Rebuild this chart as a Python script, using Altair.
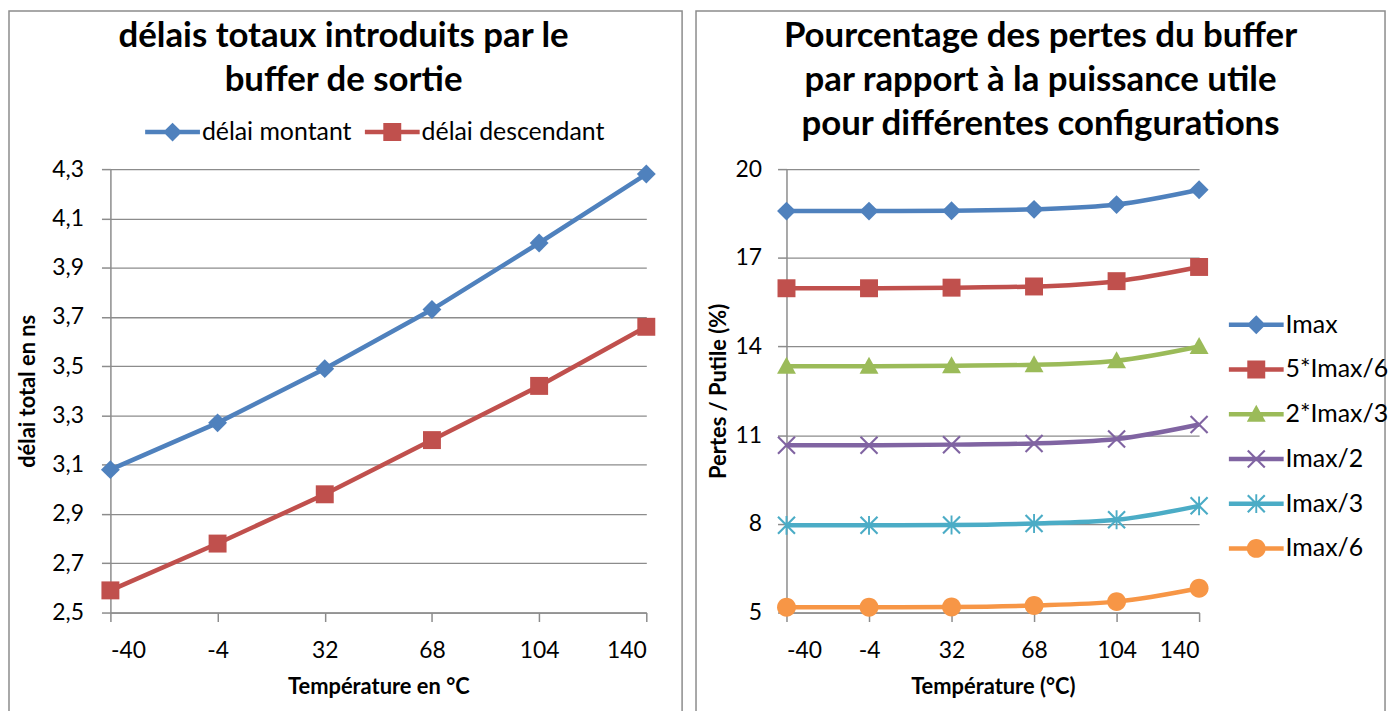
import altair as alt
import pandas as pd

# ---------------- data ----------------
temps = [-40, -4, 32, 68, 104, 140]

delai_montant = [3.08, 3.27, 3.49, 3.73, 4.00, 4.28]
delai_descendant = [2.59, 2.78, 2.98, 3.20, 3.42, 3.66]
left_series = ["délai montant", "délai descendant"]
left_colors = ["#4F81BD", "#C0504D"]
left_yticks = [2.5, 2.7, 2.9, 3.1, 3.3, 3.5, 3.7, 3.9, 4.1, 4.3]

pertes_imax = [18.58, 18.58, 18.59, 18.64, 18.80, 19.30]
pertes_5imax6 = [15.97, 15.97, 15.99, 16.03, 16.21, 16.69]
pertes_2imax3 = [13.33, 13.33, 13.35, 13.38, 13.52, 14.00]
pertes_imax2 = [10.66, 10.66, 10.68, 10.72, 10.87, 11.36]
pertes_imax3 = [7.95, 7.95, 7.96, 8.01, 8.14, 8.61]
pertes_imax6 = [5.18, 5.18, 5.19, 5.24, 5.37, 5.82]
right_series = ["Imax", "5*Imax/6", "2*Imax/3", "Imax/2", "Imax/3", "Imax/6"]
right_colors = ["#4F81BD", "#C0504D", "#9BBB59", "#8064A2", "#4BACC6", "#F79646"]
right_yticks = [5, 8, 11, 14, 17, 20]

left_title = ["délais totaux introduits par le", "buffer de sortie"]
right_title = ["Pourcentage des pertes du buffer",
               "par rapport à la puissance utile",
               "pour différentes configurations"]

# ---------------- marker shapes (unit square paths) ----------------
DIAMOND = "M0,-1L1,0L0,1L-1,0Z"
SQUARE = "M-0.95,-0.95L0.95,-0.95L0.95,0.95L-0.95,0.95Z"
TRIANGLE = "M0,-1L1,0.8L-1,0.8Z"
XMARK = ("M-0.82,-0.98L0.98,0.82L0.82,0.98L-0.98,-0.82Z"
         "M0.82,-0.98L0.98,-0.82L-0.82,0.98L-0.98,0.82Z")
STAR = XMARK + "M-0.1,-1L0.1,-1L0.1,1L-0.1,1Z"
CIRCLE = "M-1,0A1,1 0 1,1 1,0A1,1 0 1,1 -1,0Z"
SEG = "M-2.9,-0.24L2.9,-0.24L2.9,0.24L-2.9,0.24Z"

FONT = "Lato"
GRID = "#8c8c8c"
MSIZE = 361

left_df = pd.DataFrame({
    "temp": temps * 2,
    "val": delai_montant + delai_descendant,
    "series": [left_series[0]] * 6 + [left_series[1]] * 6,
})

right_vals = [pertes_imax, pertes_5imax6, pertes_2imax3, pertes_imax2, pertes_imax3, pertes_imax6]
right_df = pd.DataFrame({
    "temp": temps * len(right_series),
    "val": [v for s in right_vals for v in s],
    "series": [s for s in right_series for _ in temps],
})

one = pd.DataFrame({"k": [0]})


def panel(df, series, colors, shapes, ydomain, yticks, ylabel_expr, xtitle, ytitle,
          width, height, frame, title_lines, title_x, interp, legend_kw,
          ylabel_pad, ytitle_pad):
    x = alt.X("temp:Q", scale=alt.Scale(domain=[-40, 140], nice=False, zero=False),
              axis=alt.Axis(values=temps, grid=False, title=xtitle, labelPadding=18,
                            titlePadding=14,
                            labelExpr="datum.value < 0 ? '-' + abs(datum.value) : '' + datum.value"))
    y = alt.Y("val:Q", scale=alt.Scale(domain=ydomain, nice=False, zero=False),
              axis=alt.Axis(values=yticks, grid=True, title=ytitle, labelExpr=ylabel_expr,
                            labelPadding=ylabel_pad, titlePadding=ytitle_pad))
    cscale = alt.Scale(domain=series, range=colors)

    lines = alt.Chart(df).mark_line(strokeWidth=4.5, interpolate=interp).encode(
        x=x, y=y, color=alt.Color("series:N", scale=cscale, legend=None),
        order=alt.Order("temp:Q"))
    pts = alt.Chart(df).mark_point(filled=True, opacity=1, size=MSIZE, strokeWidth=0).encode(
        x=x, y=y,
        color=alt.Color("series:N", scale=cscale, legend=None),
        shape=alt.Shape("series:N", scale=alt.Scale(domain=series, range=shapes), legend=None))

    leg = alt.Legend(title=None, orient="none", symbolSize=MSIZE, symbolStrokeWidth=0,
                     labelFont=FONT, labelColor="black", labelOffset=17, labelLimit=500,
                     **legend_kw)
    legend_layer = alt.Chart(alt.Data(values=[])).mark_point(
        filled=True, opacity=1, size=MSIZE, strokeWidth=0).encode(
        color=alt.Color("series:N", scale=cscale, legend=leg),
        shape=alt.Shape("series:N", scale=alt.Scale(domain=series, range=[SEG + s for s in shapes]),
                        legend=leg))

    fx1, fx2, fy1, fy2 = frame
    box = alt.Chart(one).mark_rect(fillOpacity=0, stroke=GRID, strokeWidth=1.5).encode(
        x=alt.value(fx1), x2=alt.value(fx2), y=alt.value(fy1), y2=alt.value(fy2))

    ttl = alt.Chart(one).mark_text(font=FONT, fontSize=35, fontWeight="bold", align="center",
                                   baseline="alphabetic", lineHeight=44.5, color="black").encode(
        x=alt.value(title_x), y=alt.value(-123), text=alt.value(title_lines))

    return alt.layer(box, ttl, lines, pts, legend_layer).resolve_scale(
        color="independent", shape="independent").resolve_legend(
        color="independent", shape="independent").properties(width=width, height=height)


left = panel(left_df, left_series, left_colors, [DIAMOND, SQUARE], [2.5, 4.3], left_yticks,
             "replace(format(datum.value, '.1f'), '.', ',')",
             "Température en °C", "délai total en ns", 539, 446,
             (-102, 575, -159, 547), left_title, 234.5, "linear",
             dict(direction="horizontal", legendX=50, legendY=-50, columnPadding=12,
                  labelFontSize=25), 18, 12)

right = panel(right_df, right_series, right_colors,
              [DIAMOND, SQUARE, TRIANGLE, XMARK, STAR, CIRCLE], [5, 20], right_yticks,
              "format(datum.value, 'd')",
              "Température (°C)", "Pertes / Putile  (%)", 415, 446,
              (-91, 602, -159, 547), right_title, 255.5, "monotone",
              dict(direction="vertical", legendX=460, legendY=144, rowPadding=19,
                   labelFontSize=25), 16, 5)

chart = alt.hconcat(left, right, spacing=12).properties(
    padding=0, background="white").configure_view(
    stroke=None).configure_axis(
    labelFont=FONT, labelFontSize=23, labelColor="black",
    titleFont=FONT, titleFontSize=22, titleFontWeight="bold", titleColor="black",
    domainColor=GRID, domainWidth=1.5, tickColor=GRID, tickWidth=1.5, tickSize=9,
    gridColor=GRID, gridWidth=1.3)

chart.save("out.html", embed_options={"renderer": "svg", "actions": False})
